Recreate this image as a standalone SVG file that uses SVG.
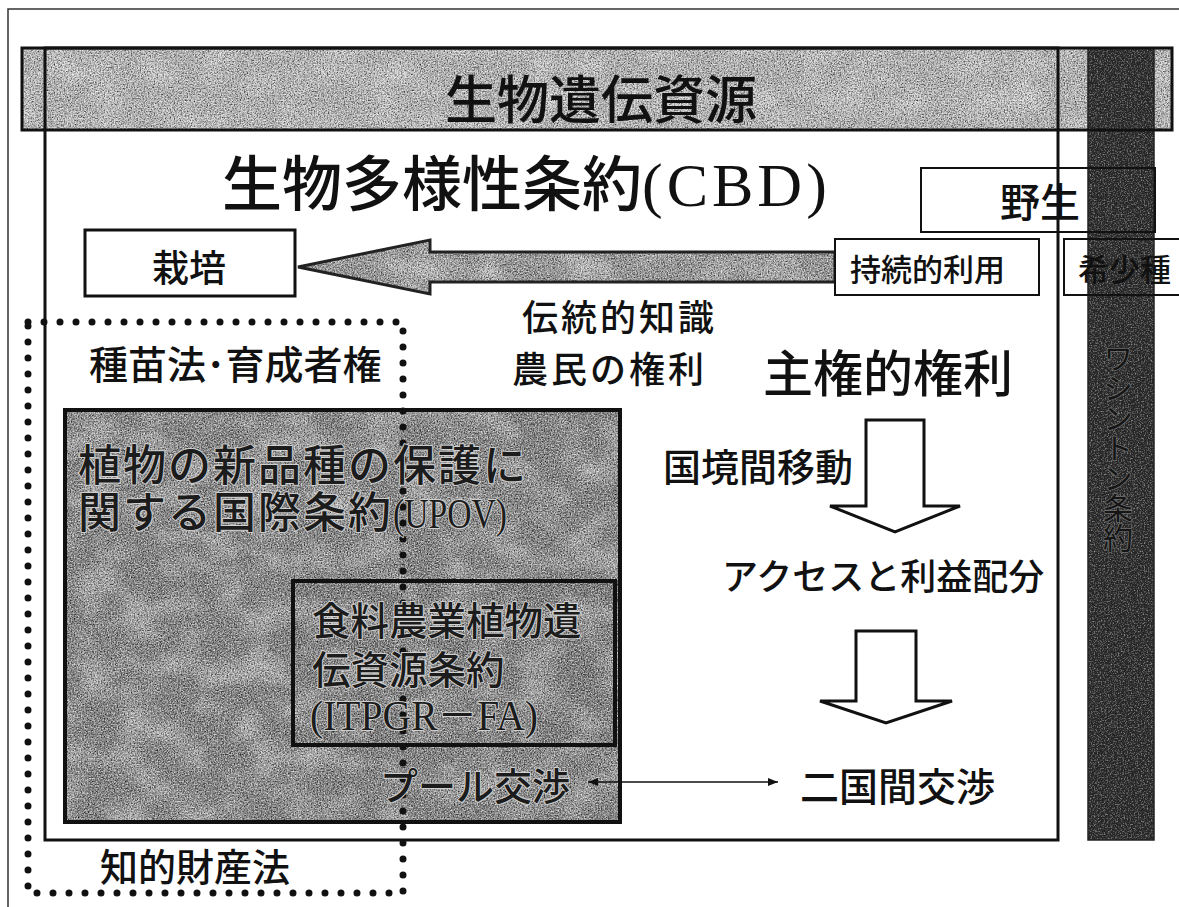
<svg xmlns="http://www.w3.org/2000/svg" width="1179" height="907" viewBox="0 0 1179 907">
<defs>
<style>
.jp{font-family:"Noto Sans CJK JP","Noto Sans CJK SC",sans-serif;font-weight:500;fill:#111;}
.ser{font-family:"Liberation Serif","Noto Sans CJK JP",serif;}
.emb{font-family:"Noto Sans CJK JP","Noto Sans CJK SC",sans-serif;font-weight:500;fill:#1c1c1c;stroke:#cfcfcf;stroke-width:2;paint-order:stroke;stroke-linejoin:round;}
.embd{font-family:"Noto Sans CJK JP","Noto Sans CJK SC",sans-serif;fill:#151515;stroke:#6e6e6e;stroke-width:1.5;paint-order:stroke;stroke-linejoin:round;}
.wbox{fill:#fff;stroke:none;}
.frame{fill:none;stroke:#111;stroke-width:3;}
.thin{fill:none;stroke:#111;stroke-width:2;}
.hollow{fill:#fff;stroke:#111;stroke-width:3;stroke-linejoin:miter;}
</style>
<filter id="grain" x="0" y="0" width="1" height="1" color-interpolation-filters="sRGB">
<feTurbulence type="fractalNoise" baseFrequency="0.7" numOctaves="2" seed="4" result="fine"/>
<feTurbulence type="fractalNoise" baseFrequency="0.025 0.035" numOctaves="2" seed="9" result="coarse"/>
<feColorMatrix in="fine" type="matrix" values="0 0 0 0 0 0 0 0 0 0 0 0 0 0 0 1.5 0 0 0 -0.55" result="dark"/>
<feColorMatrix in="fine" type="matrix" values="0 0 0 0 1 0 0 0 0 1 0 0 0 0 1 0 1.6 0 0 -0.6" result="light"/>
<feColorMatrix in="coarse" type="matrix" values="0 0 0 0 1 0 0 0 0 1 0 0 0 0 1 0 0 1.1 0 -0.45" result="blot"/>
<feMerge result="m"><feMergeNode in="SourceGraphic"/><feMergeNode in="blot"/><feMergeNode in="dark"/><feMergeNode in="light"/></feMerge>
<feComposite in="m" in2="SourceGraphic" operator="in"/>
</filter>
<filter id="grainDark" x="0" y="0" width="1" height="1" color-interpolation-filters="sRGB">
<feTurbulence type="fractalNoise" baseFrequency="0.7" numOctaves="2" seed="11" result="fine"/>
<feColorMatrix in="fine" type="matrix" values="0 0 0 0 1 0 0 0 0 1 0 0 0 0 1 0 1.2 0 0 -0.55" result="light"/>
<feMerge result="m"><feMergeNode in="SourceGraphic"/><feMergeNode in="light"/></feMerge>
<feComposite in="m" in2="SourceGraphic" operator="in"/>
</filter>
<marker id="ah" viewBox="0 0 10 8" refX="10" refY="4" markerWidth="11" markerHeight="8" markerUnits="userSpaceOnUse" orient="auto-start-reverse"><path d="M0,0 L10,4 L0,8 Z" fill="#111"/></marker>
</defs>

<rect x="0" y="0" width="1179" height="907" fill="#fff"/>
<g id="page-frame">
<path d="M8,907 V9 H1179" fill="none" stroke="#333" stroke-width="1.5"/>
</g>

<g id="banner">
<rect x="22" y="48" width="1150" height="82" fill="#bcbcbc" filter="url(#grain)"/>
</g>

<g id="wild-box-fill">
<rect class="wbox" x="921" y="168" width="234" height="64"/>
<rect class="wbox" x="1064" y="239" width="130" height="56"/>
</g>

<g id="washington-bar">
<rect x="1088" y="48" width="66" height="792" fill="#262626" filter="url(#grainDark)"/>
<rect x="1088" y="48" width="66" height="792" fill="none" stroke="#222" stroke-width="1.5"/>
</g>

<g id="cbd-box">
<rect class="frame" x="45" y="48" width="1013" height="792"/>
</g>

<g id="banner-frame">
<rect x="22" y="48" width="1150" height="82" fill="none" stroke="#111" stroke-width="3"/>
<text class="jp" x="445" y="119" font-size="52">生物遺伝資源</text>
</g>

<g id="cbd-title">
<text class="jp" x="222" y="206" font-size="60">生物多様性条約<tspan class="ser" font-weight="400" font-size="62" letter-spacing="4">(CBD)</tspan></text>
</g>

<g id="wild">
<rect class="thin" x="921" y="168" width="234" height="64"/>
<text class="jp" x="1000" y="217" font-size="40">野生</text>
</g>

<g id="rare">
<rect class="thin" x="1064" y="239" width="130" height="56"/>
<text class="jp" x="1078" y="281" font-size="31">希少種</text>
</g>

<g id="washington-label">
<text class="embd" x="1118" y="343" font-size="30" style="writing-mode:vertical-rl">ワシントン条約</text>
</g>

<g id="upov">
<rect x="65" y="410" width="555" height="412" fill="#7e7e7e" filter="url(#grain)"/>
<rect x="65" y="410" width="555" height="412" fill="none" stroke="#111" stroke-width="4"/>
</g>

<g id="itpgr">
<rect x="293" y="581" width="322" height="164" fill="#767676" filter="url(#grain)"/>
<rect x="293" y="581" width="322" height="164" fill="none" stroke="#111" stroke-width="4"/>
</g>

<g id="connectors">
<polygon points="298,267 430,240 430,252 835,252 835,282 430,282 430,294" fill="#979797" filter="url(#grain)"/>
<polygon points="298,267 430,240 430,252 835,252 835,282 430,282 430,294" fill="none" stroke="#222" stroke-width="3" stroke-linejoin="miter"/>
<path class="hollow" d="M866,420 H924 V506 H960 L895,532 L830,506 H866 Z"/>
<path class="hollow" d="M856,631 H916 V701 H952 L886,723 L820,701 H856 Z"/>
<line x1="588" y1="782" x2="778" y2="782" stroke="#111" stroke-width="1.5" marker-start="url(#ah)" marker-end="url(#ah)"/>
</g>

<g id="sustainable">
<rect x="835" y="239" width="204" height="56" fill="#fff" stroke="#111" stroke-width="2"/>
<text class="jp" x="850" y="281" font-size="31">持続的利用</text>
</g>

<g id="cultivated">
<rect x="85" y="230" width="210" height="66" fill="#fff" stroke="#111" stroke-width="3"/>
<text class="jp" x="152" y="282" font-size="37">栽培</text>
</g>

<g id="labels">
<text class="jp" x="522" y="331" font-size="36" letter-spacing="3">伝統的知識</text>
<text class="jp" x="512" y="383" font-size="36" letter-spacing="3">農民の権利</text>
<text class="jp" x="763" y="392" font-size="50">主権的権利</text>
<text class="jp" x="663" y="481" font-size="38">国境間移動</text>
<text class="jp" x="722" y="590" font-size="36">アクセスと利益配分</text>
<text class="jp" x="800" y="801" font-size="39">二国間交渉</text>
</g>

<g id="ip-law">
<rect x="28" y="322" width="375" height="571" fill="none" stroke="#111" stroke-width="7" stroke-dasharray="0 16" stroke-linecap="round"/>
<text class="jp" x="89" y="379" font-size="39">種苗法･育成者権</text>
<text class="jp" x="100" y="881" font-size="38">知的財産法</text>
</g>

<g id="upov-text">
<text class="emb" font-size="43" letter-spacing="2"><tspan x="78" y="481">植物の新品種の保護に</tspan><tspan x="78" y="528">関する国際条約</tspan><tspan font-family="Liberation Serif, Noto Sans CJK JP, serif" font-weight="400" letter-spacing="0" textLength="114" lengthAdjust="spacingAndGlyphs">(UPOV)</tspan></text>
</g>

<g id="itpgr-text">
<text class="emb" font-size="38.5"><tspan x="312" y="635">食料農業植物遺</tspan><tspan x="312" y="684">伝資源条約</tspan><tspan x="310" y="730" font-size="42" font-family="Liberation Serif, Noto Sans CJK JP, serif" font-weight="400" textLength="228" lengthAdjust="spacingAndGlyphs">(ITPGR－FA)</tspan></text>
</g>

<g id="pool">
<text class="emb" x="380" y="800" font-size="38">プール交渉</text>
</g>
</svg>
